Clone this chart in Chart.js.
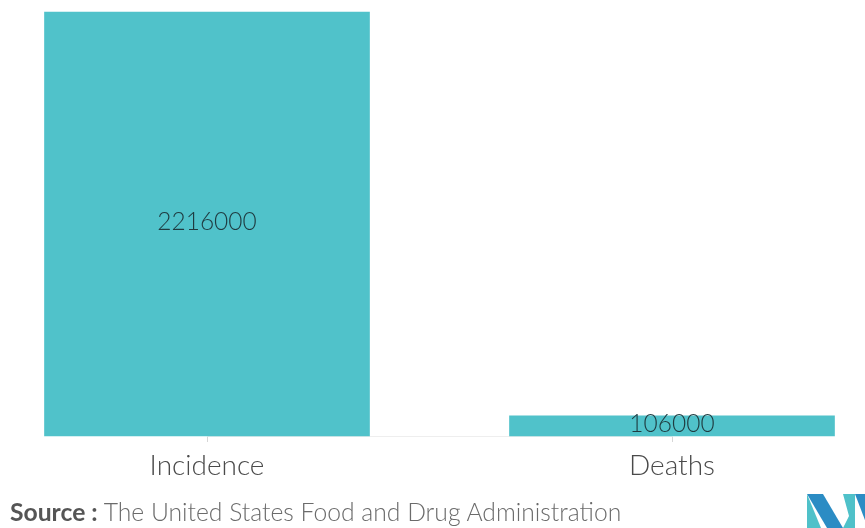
<!DOCTYPE html>
<html>
<head>
<meta charset="utf-8">
<script src="https://cdn.jsdelivr.net/npm/chart.js@4.4.1/dist/chart.umd.min.js"></script>
<style>
  html, body { margin: 0; padding: 0; background: #fff; }
  #wrap { position: relative; width: 865px; height: 528px; overflow: hidden; }
  #chart { position: absolute; left: 0; top: 0; }
  #source { position: absolute; left: 10px; top: 497px; font-family: Lato, sans-serif; font-size: 24.7px; color: #6b6b6b; font-weight: 300; white-space: nowrap; }
  #source b { color: #555; font-weight: 700; }
  #logo { position: absolute; left: 803px; top: 490px; }
</style>
</head>
<body>
<div id="wrap">
  <canvas id="chart" width="865" height="528"></canvas>
  <div id="source"><b>Source :</b> The United States Food and Drug Administration</div>
  <svg id="logo" width="65" height="38" viewBox="0 0 65 38">
    <polygon points="4,4 20,4 40,38 24,38" fill="#2b8cc4"/>
    <polygon points="4,4 4,38 18,38" fill="#4fc1c9"/>
    <polygon points="40,4 52,4 52,38 40,38 46,26" fill="#4fc1c9"/>
    <polygon points="52,4 65,4 65,38" fill="#2b8cc4"/>
  </svg>
</div>
<script>
// valori
const categories = ['Incidence', 'Deaths'];
const cases = [2216000, 106000];

const barColor = '#50c2ca';

// scrive il valore al centro di ogni barra
const valueLabels = {
    id: 'valueLabels',
    afterDatasetsDraw(chart) {
        const ctx = chart.ctx;
        const meta = chart.getDatasetMeta(0);
        ctx.save();
        ctx.font = '300 24.5px Lato, sans-serif';
        ctx.fillStyle = '#1f3b40';
        ctx.textAlign = 'center';
        ctx.textBaseline = 'middle';
        meta.data.forEach((bar, i) => {
            const y = (bar.y + bar.base) / 2 - 2;
            ctx.fillText(String(cases[i]), bar.x, y);
        });
        ctx.restore();
    }
};

new Chart(document.getElementById('chart'), {
    type: 'bar',
    data: {
        labels: categories,
        datasets: [{
            data: cases,
            backgroundColor: barColor,
            barThickness: 325,
            clip: false
        }]
    },
    options: {
        responsive: false,
        animation: false,
        layout: { padding: { left: 207, right: 193, top: 12, bottom: 0 } },
        plugins: {
            legend: { display: false },
            tooltip: { enabled: false }
        },
        scales: {
            x: {
                offset: false,
                afterFit(scale) { scale.height = 92; },
                grid: { display: true, drawOnChartArea: false, color: '#d6d6d6', tickLength: 6, offset: false },
                border: { display: true, color: '#eeeeee' },
                ticks: {
                    padding: 7,
                    color: '#4a4a4a',
                    font: { family: 'Lato', size: 28, weight: 300 }
                }
            },
            y: {
                display: false,
                min: 0,
                max: 2216000
            }
        }
    },
    plugins: [valueLabels]
});
</script>
</body>
</html>
